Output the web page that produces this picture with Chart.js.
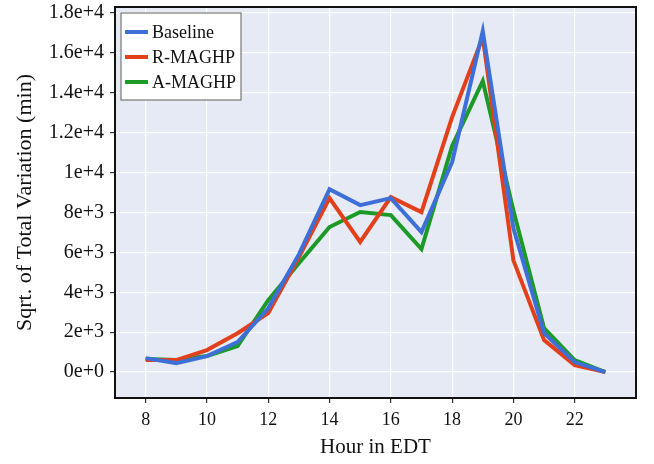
<!DOCTYPE html>
<html>
<head>
<meta charset="utf-8">
<script src="https://cdn.jsdelivr.net/npm/chart.js@4/dist/chart.umd.min.js"></script>
<style>
  html, body { margin: 0; padding: 0; background: #fff; }
  #wrap { width: 654px; height: 464px; }
</style>
</head>
<body>
<div id="wrap"><canvas id="chart"></canvas></div>
<script>
/* ===== Data ===== */
const hours = [8, 9, 10, 11, 12, 13, 14, 15, 16, 17, 18, 19, 20, 21, 22, 23];
const baseline = [700, 450, 800, 1500, 3200, 5900, 9170, 8370, 8720, 7020, 10530, 17090, 7200, 1950, 500, 0];
const rMaghp   = [600, 600, 1100, 1950, 2950, 5750, 8720, 6520, 8770, 8020, 12780, 16790, 5600, 1600, 350, 0];
const aMaghp   = [650, 600, 800, 1300, 3600, 5450, 7270, 8020, 7870, 6170, 11330, 14590, 8100, 2200, 600, 0];

const xTicks = [8, 10, 12, 14, 16, 18, 20, 22];
const yTicks = [0, 2000, 4000, 6000, 8000, 10000, 12000, 14000, 16000, 18000];

const SERIES = [
    { label: 'Baseline', data: baseline, color: '#3d6fd6' },
    { label: 'R-MAGHP',  data: rMaghp,   color: '#e2401b' },
    { label: 'A-MAGHP',  data: aMaghp,   color: '#1c9a27' },
];

const FONT = "'Liberation Serif', 'Times New Roman', serif";

/* ===== Plugins ===== */
const plotFrame = {
    id: 'plotFrame',
    beforeDraw(chart) {
        const { ctx, chartArea: a } = chart;
        ctx.save();
        ctx.fillStyle = '#e5eaf4';
        ctx.fillRect(a.left, a.top, a.right - a.left, a.bottom - a.top);
        ctx.restore();
    },
    afterDraw(chart) {
        const { ctx, chartArea: a } = chart;
        ctx.save();
        ctx.strokeStyle = '#111';
        ctx.lineWidth = 2;
        ctx.strokeRect(a.left, a.top, a.right - a.left, a.bottom - a.top);

        // legend box inside the plot
        const bx = 121, by = 13, bw = 120, bh = 87;
        ctx.fillStyle = '#fff';
        ctx.fillRect(bx, by, bw, bh);
        ctx.strokeStyle = '#777';
        ctx.lineWidth = 1.2;
        ctx.strokeRect(bx, by, bw, bh);
        ctx.font = '18px ' + FONT;
        ctx.textBaseline = 'middle';
        SERIES.forEach((s, i) => {
            const y = by + 19 + i * 25;
            ctx.strokeStyle = s.color;
            ctx.lineWidth = 4;
            ctx.beginPath();
            ctx.moveTo(bx + 4, y);
            ctx.lineTo(bx + 27, y);
            ctx.stroke();
            ctx.fillStyle = '#111';
            ctx.fillText(s.label, bx + 31, y + 1);
        });
        ctx.restore();
    }
};

/* ===== Chart ===== */
new Chart(document.getElementById('chart'), {
    type: 'line',
    data: {
        datasets: SERIES.map(s => ({
            label: s.label,
            data: hours.map((h, i) => ({ x: h, y: s.data[i] })),
            borderColor: s.color,
            backgroundColor: s.color,
            borderWidth: 4,
            pointRadius: 0,
            tension: 0,
        }))
    },
    options: {
        responsive: true,
        maintainAspectRatio: false,
        animation: false,
        layout: { padding: { top: 7, right: 18, left: 0, bottom: 0 } },
        plugins: { legend: { display: false }, tooltip: { enabled: false } },
        scales: {
            x: {
                type: 'linear',
                min: 7,
                max: 24,
                afterBuildTicks: s => { s.ticks = xTicks.map(v => ({ value: v })); },
                afterFit: s => { s.height = 66; s.paddingLeft = 0; s.paddingRight = 0; },
                ticks: { color: '#111', font: { family: FONT, size: 18 }, padding: 6, maxRotation: 0 },
                grid: { color: '#ffffff', lineWidth: 1.2, tickColor: '#333', tickLength: 5 },
                border: { display: false },
                title: { display: true, text: 'Hour in EDT', color: '#111', font: { family: FONT, size: 21 }, padding: { top: 3 } }
            },
            y: {
                min: -1300,
                max: 18300,
                afterBuildTicks: s => { s.ticks = yTicks.map(v => ({ value: v })); },
                afterFit: s => { s.width = 115; s.paddingTop = 0; s.paddingBottom = 0; },
                ticks: { color: '#111', font: { family: FONT, size: 20 }, padding: 6, callback: v => v.toExponential() },
                grid: { color: '#ffffff', lineWidth: 1.2, tickColor: '#333', tickLength: 5 },
                border: { display: false },
                title: { display: true, text: 'Sqrt. of Total Variation (min)', color: '#111', font: { family: FONT, size: 22 }, padding: { top: 12, bottom: 0 } }
            }
        }
    },
    plugins: [plotFrame]
});
</script>
</body>
</html>
